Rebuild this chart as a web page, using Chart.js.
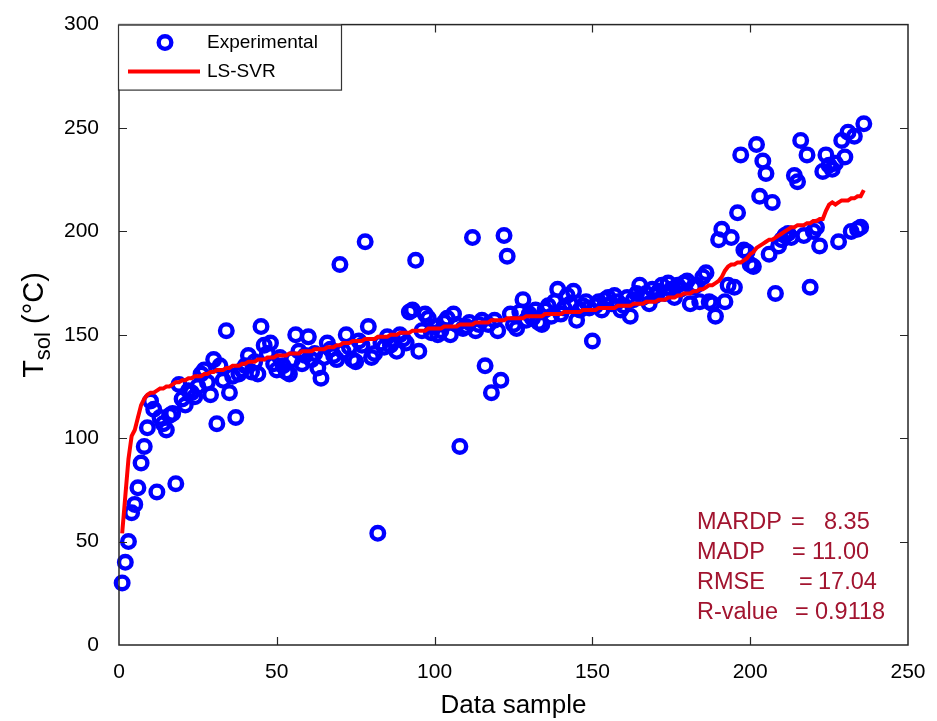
<!DOCTYPE html>
<html>
<head>
<meta charset="utf-8">
<script src="https://cdn.jsdelivr.net/npm/chart.js@4/dist/chart.umd.min.js"></script>
<style>
  html, body { margin: 0; padding: 0; background: #fff; }
  #wrap { width: 937px; height: 721px; }
</style>
</head>
<body>
<div id="wrap"><canvas id="tsolChart" width="937" height="721"></canvas></div>
<script>
// experimental T_sol (°C), data sample 1..236
const expTsol = [
  30, 40, 50, 64, 68, 76, 88, 96, 105, 118,
  114, 74, 110, 107, 104, 111, 112, 78, 126, 119,
  116, 123, 122, 120, 125, 131, 133, 127, 121, 138,
  107, 135, 128, 152, 122, 130, 110, 131, 133, 135,
  140, 132, 137, 131, 154, 145, 141, 146, 136, 133,
  139, 135, 132, 131, 138, 150, 142, 136, 140, 149,
  138, 141, 134, 129, 139, 146, 143, 140, 138, 184,
  142, 150, 144, 138, 137, 147, 145, 195, 154, 139,
  141, 54, 146, 144, 149, 145, 147, 142, 150, 148,
  146, 161, 162, 186, 142, 152, 160, 158, 151, 154,
  150, 152, 156, 158, 150, 160, 155, 96, 153, 154,
  156, 197, 152, 155, 157, 135, 155, 122, 157, 152,
  128, 198, 188, 160, 155, 153, 161, 167, 157, 160,
  158, 162, 156, 155, 162, 164, 159, 166, 172, 160,
  163, 169, 165, 171, 157, 162, 164, 166, 163, 147,
  164, 166, 162, 167, 168, 165, 169, 166, 162, 164,
  168, 159, 167, 170, 174, 168, 170, 165, 172, 169,
  171, 174, 170, 175, 172, 168, 174, 172, 175, 176,
  165, 173, 174, 166, 178, 180, 166, 165, 159, 196,
  201, 166, 174, 197, 173, 209, 237, 191, 190, 184,
  183, 242, 217, 234, 228, 189, 214, 170, 193, 196,
  198, 199, 197, 227, 224, 244, 198, 237, 173, 200,
  202, 193, 229, 237, 232, 230, 233, 195, 244, 236,
  248, 200, 246, 201, 202, 252
];

// LS-SVR predicted T_sol (°C)
const svrTsol = [
  54, 72, 90, 101, 104, 110, 116, 119, 121, 122,
  122, 123, 124, 124, 125, 125, 126, 127, 127, 128,
  128, 129, 129, 130, 130, 130, 131, 131, 132, 132,
  133, 133, 133, 134, 134, 135, 135, 135, 136, 136,
  137, 137, 137, 138, 138, 138, 139, 139, 139, 140,
  140, 140, 140, 141, 141, 141, 141, 142, 142, 142,
  142, 143, 143, 143, 143, 144, 144, 144, 145, 145,
  146, 146, 146, 147, 147, 147, 147, 148, 148, 148,
  148, 149, 149, 149, 149, 150, 150, 150, 151, 151,
  151, 151, 152, 152, 152, 152, 152, 153, 153, 153,
  153, 153, 154, 154, 154, 154, 154, 155, 155, 155,
  155, 155, 156, 156, 156, 156, 156, 157, 157, 157,
  157, 157, 158, 158, 158, 158, 158, 158, 159, 159,
  159, 159, 159, 159, 160, 160, 160, 160, 160, 160,
  161, 161, 161, 161, 161, 161, 162, 162, 162, 162,
  162, 163, 163, 163, 163, 163, 163, 164, 164, 164,
  164, 164, 165, 165, 165, 165, 166, 166, 166, 166,
  167, 167, 167, 168, 168, 168, 169, 169, 170, 170,
  170, 171, 171, 172, 172, 173, 174, 174, 175, 176,
  178, 181, 183, 184, 184, 185, 185, 186, 187, 189,
  190, 192, 193, 194, 195, 196, 196, 197, 198, 199,
  200, 201, 202, 202, 203, 203, 203, 204, 204, 205,
  205, 206, 206, 210, 213, 214, 213, 214, 215, 215,
  215, 216, 216, 217, 217, 220
];

const xTicks = [0, 50, 100, 150, 200, 250];
const yTicks = [0, 50, 100, 150, 200, 250, 300];
const seriesNames = ['Experimental', 'LS-SVR'];
const statLabels = ['MARDP', 'MADP', 'RMSE', 'R-value'];
const statValues = ['8.35', '11.00', '17.04', '0.9118'];

const FONT = "'Liberation Sans', Arial, Helvetica, sans-serif";
const AXIS_COLOR = '#262626';

// box around the axes + inward ticks on all four sides (matlab look)
const boxPlugin = {
  id: 'boxPlugin',
  afterDatasetsDraw(chart) {
    const { ctx, chartArea: a, scales } = chart;
    const len = 8;
    ctx.save();
    ctx.strokeStyle = AXIS_COLOR;
    ctx.lineWidth = 1.2;
    ctx.beginPath();
    xTicks.forEach(v => {
      const px = Math.round(scales.x.getPixelForValue(v)) + 0.5;
      if (v === 0 || v === 250) return;
      ctx.moveTo(px, a.bottom); ctx.lineTo(px, a.bottom - len);
      ctx.moveTo(px, a.top); ctx.lineTo(px, a.top + len);
    });
    yTicks.forEach(v => {
      const py = Math.round(scales.y.getPixelForValue(v)) + 0.5;
      if (v === 0 || v === 300) return;
      ctx.moveTo(a.left, py); ctx.lineTo(a.left + len, py);
      ctx.moveTo(a.right, py); ctx.lineTo(a.right - len, py);
    });
    ctx.stroke();
    ctx.lineWidth = 1.5;
    ctx.strokeRect(a.left, a.top, a.right - a.left, a.bottom - a.top);
    ctx.restore();
  },
  afterDraw(chart) {
    const { ctx, chartArea: a } = chart;
    ctx.save();

    // legend box, top-left
    const lx = a.left - 1, ly = a.top, lw = 223, lh = 65;
    ctx.fillStyle = '#fff';
    ctx.fillRect(lx, ly, lw, lh);
    ctx.strokeStyle = '#333';
    ctx.lineWidth = 1.2;
    ctx.strokeRect(lx + 0.5, ly + 0.5, lw, lh);

    ctx.strokeStyle = '#0000FF';
    ctx.lineWidth = 4.4;
    ctx.beginPath();
    ctx.arc(lx + 47, ly + 18, 6.3, 0, Math.PI * 2);
    ctx.stroke();

    ctx.strokeStyle = '#FF0000';
    ctx.lineWidth = 4;
    ctx.beginPath();
    ctx.moveTo(lx + 10, ly + 47);
    ctx.lineTo(lx + 82, ly + 47);
    ctx.stroke();

    ctx.fillStyle = '#000';
    ctx.font = '19px ' + FONT;
    ctx.textBaseline = 'middle';
    ctx.textAlign = 'left';
    ctx.fillText(seriesNames[0], lx + 89, ly + 18);
    ctx.fillText(seriesNames[1], lx + 89, ly + 47);

    // statistics text
    const eqX = [791, 792, 799, 795];
    const valX = [824, 812, 818, 815];
    ctx.fillStyle = '#A2142F';
    ctx.font = '23.5px ' + FONT;
    statLabels.forEach((s, i) => {
      const y = 523 + i * 30;
      ctx.fillText(s, 697, y);
      ctx.fillText('=', eqX[i], y);
      ctx.fillText(statValues[i], valX[i], y);
    });

    // y axis title with subscript
    ctx.fillStyle = '#000';
    ctx.translate(35, 325);
    ctx.rotate(-Math.PI / 2);
    const bigF = '29px ' + FONT, subF = '22px ' + FONT;
    ctx.font = bigF;
    const wT = ctx.measureText('T').width;
    const wRest = ctx.measureText(' (\u00B0C)').width;
    ctx.font = subF;
    const wSub = ctx.measureText('sol').width;
    let x0 = -(wT + wSub + wRest) / 2;
    ctx.font = bigF;
    ctx.fillText('T', x0, 0);
    ctx.font = subF;
    ctx.fillText('sol', x0 + wT, 9);
    ctx.font = bigF;
    ctx.fillText(' (\u00B0C)', x0 + wT + wSub, 0);
    ctx.restore();
  }
};

const ctx = document.getElementById('tsolChart').getContext('2d');

new Chart(ctx, {
  type: 'scatter',
  data: {
    datasets: [
      {
        label: seriesNames[0],
        data: expTsol.map((v, i) => ({ x: i + 1, y: v })),
        showLine: false,
        pointStyle: 'circle',
        pointRadius: 6.3,
        pointBorderWidth: 4.4,
        borderColor: '#0000FF',
        backgroundColor: 'rgba(0,0,0,0)',
        clip: false,
        order: 1
      },
      {
        label: seriesNames[1],
        type: 'line',
        data: svrTsol.map((v, i) => ({ x: i + 1, y: v })),
        showLine: true,
        borderColor: '#FF0000',
        borderWidth: 4,
        pointRadius: 0,
        tension: 0,
        fill: false,
        order: 0
      }
    ]
  },
  options: {
    responsive: false,
    animation: false,
    layout: { padding: { top: 15, right: 29, left: 0, bottom: 0 } },
    plugins: {
      legend: { display: false },
      tooltip: { enabled: false }
    },
    scales: {
      x: {
        type: 'linear',
        min: 0,
        max: 250,
        afterBuildTicks: s => { s.ticks = xTicks.map(v => ({ value: v })); },
        afterFit: s => { s.height = 76; },
        grid: { display: false },
        border: { display: false },
        ticks: {
          color: '#000',
          font: { family: FONT, size: 21 },
          padding: 7,
          maxRotation: 0
        },
        title: {
          display: true,
          text: 'Data sample',
          color: '#000',
          font: { family: FONT, size: 26 },
          padding: { top: 3, bottom: 0 }
        }
      },
      y: {
        type: 'linear',
        min: 0,
        max: 300,
        afterBuildTicks: s => { s.ticks = yTicks.map(v => ({ value: v })); },
        afterFit: s => { s.width = 119; },
        grid: { display: false },
        border: { display: false },
        ticks: {
          color: '#000',
          font: { family: FONT, size: 21 },
          padding: 12
        }
      }
    }
  },
  plugins: [boxPlugin]
});
</script>
</body>
</html>
